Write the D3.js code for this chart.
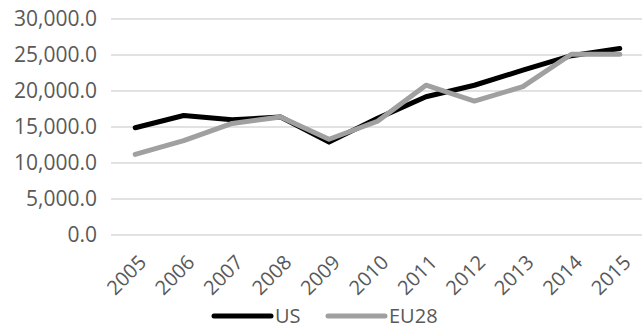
<!DOCTYPE html>
<html>
<head>
<meta charset="utf-8">
<script src="https://cdn.jsdelivr.net/npm/d3@7"></script>
<style>
  html, body { margin: 0; padding: 0; background: #fff; }
  svg { display: block; }
  text { font-family: "Open Sans", "Noto Sans", sans-serif; fill: #595959; }
</style>
</head>
<body>
<svg id="chart" width="642" height="329"></svg>
<script>
// Annual values, 2005–2015
const years = ["2005","2006","2007","2008","2009","2010","2011","2012","2013","2014","2015"];
const usValues   = [14900, 16600, 16000, 16400, 12900, 16200, 19200, 20800, 22900, 24900, 25900];
const eu28Values = [11200, 13100, 15500, 16400, 13300, 15800, 20800, 18600, 20600, 25100, 25100];
const yTicks = [0, 5000, 10000, 15000, 20000, 25000, 30000];

const seriesList = [
  { name: "US",   values: usValues,   color: "#000000" },
  { name: "EU28", values: eu28Values, color: "#a0a0a0" }
];

const svg = d3.select("#chart");
const plot = { left: 111, right: 644, top: 19, bottom: 235 };

const x = d3.scalePoint()
  .domain(years)
  .range([plot.left, plot.right])
  .padding(0.5);

const y = d3.scaleLinear()
  .domain([0, 30000])
  .range([plot.bottom, plot.top]);

const fmt = d3.format(",.1f");

// Horizontal gridlines
svg.append("g")
  .selectAll("line")
  .data(yTicks)
  .join("line")
  .attr("x1", plot.left)
  .attr("x2", plot.right)
  .attr("y1", d => y(d))
  .attr("y2", d => y(d))
  .attr("stroke", "#d9d9d9")
  .attr("stroke-width", 1.5);

// Y axis labels
const yAxis = d3.axisLeft(y).tickValues(yTicks).tickFormat(fmt).tickSize(0).tickPadding(0);
const yg = svg.append("g").attr("transform", `translate(${plot.left - 14},0)`).call(yAxis);
yg.select(".domain").remove();
yg.selectAll("text")
  .attr("font-size", 21)
  .attr("font-family", null)
  .attr("fill", "#595959");

// X axis labels, rotated
const xAxis = d3.axisBottom(x).tickSize(0).tickPadding(0);
const xg = svg.append("g").attr("transform", `translate(0,${plot.bottom})`).call(xAxis);
xg.select(".domain").remove();
xg.selectAll("text")
  .attr("font-size", 20)
  .attr("font-family", null)
  .attr("fill", "#595959")
  .attr("text-anchor", "end")
  .attr("dy", null)
  .attr("transform", "translate(8,25) rotate(-45)")
  .attr("y", 0)
  .attr("dominant-baseline", "middle");

// Series lines
const line = d3.line()
  .x((d, i) => x(years[i]))
  .y(d => y(d));

svg.append("g")
  .selectAll("path")
  .data(seriesList)
  .join("path")
  .attr("d", s => line(s.values))
  .attr("fill", "none")
  .attr("stroke", s => s.color)
  .attr("stroke-width", 5)
  .attr("stroke-linejoin", "round")
  .attr("stroke-linecap", "round");

// Legend
const legendX = [214, 328];
const legend = svg.append("g")
  .selectAll("g")
  .data(seriesList)
  .join("g")
  .attr("transform", (s, i) => `translate(${legendX[i]},316)`);

legend.append("line")
  .attr("x1", 0).attr("x2", 57)
  .attr("y1", 0).attr("y2", 0)
  .attr("stroke", s => s.color)
  .attr("stroke-width", 5)
  .attr("stroke-linecap", "round");

legend.append("text")
  .attr("x", 61)
  .attr("y", 0)
  .attr("dy", "0.35em")
  .attr("font-size", 20)
  .text(s => s.name);
</script>
</body>
</html>
